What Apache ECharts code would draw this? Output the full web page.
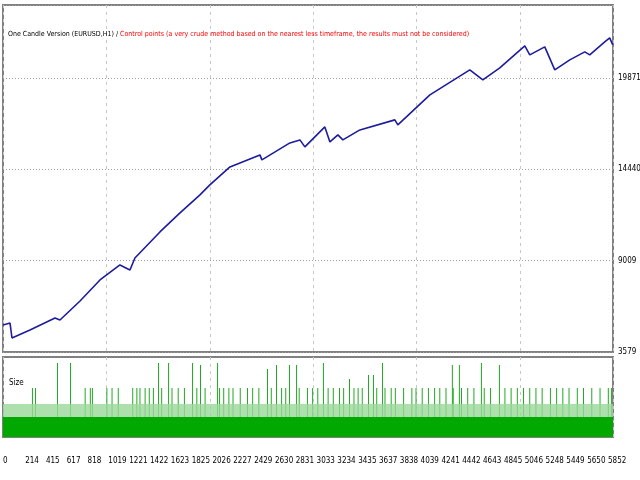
<!DOCTYPE html>
<html><head><meta charset="utf-8">
<script src="https://cdn.jsdelivr.net/npm/echarts@6/dist/echarts.min.js"></script>
<style>html,body{margin:0;padding:0;background:#fff}#c{width:640px;height:480px}</style>
</head><body><div id="c"></div>
<script>
const xTickLabels = [0,214,415,617,818,1019,1221,1422,1623,1825,2026,2227,2429,2630,2831,3033,3234,3435,3637,3838,4039,4241,4442,4643,4845,5046,5248,5449,5650,5852];
const yTickLabels = [3579,9009,14440,19871];
const equityTrades = [0,68,87,261,503,551,745,938,1131,1228,1276,1518,1712,1905,2001,2195,2485,2504,2775,2872,2920,3113,3162,3239,3287,3452,3790,3819,4129,4515,4641,4805,5047,5095,5240,5337,5482,5627,5675,5820,5868,5897];
const equityValues = [5186,5300,4412,4888,5602,5480,6614,7863,8755,8458,9172,10719,11850,12921,13515,14586,15301,15003,16015,16193,15776,16967,16074,16491,16193,16788,17383,17086,18871,20358,19763,20477,21786,21250,21727,20358,20950,21430,21250,22020,22260,21850];
const sizeBaseLevel = 1;
const sizeLightLevel = 1.65;
const sizeTallTrades = [522,648,1499,1596,1828,1905,2070,2553,2640,2766,2834,3094,3346,3530,3578,3665,4341,4409,4622,4796];
const sizeTallValues = [3.7,3.7,3.7,3.7,3.7,3.6,3.7,3.4,3.6,3.6,3.6,3.7,2.9,3.1,3.1,3.7,3.6,3.6,3.7,3.6];
const sizeMidTrades = [290,320,800,850,870,1010,1060,1120,1260,1300,1330,1380,1420,1460,1540,1640,1700,1760,1880,1960,2100,2140,2190,2230,2300,2370,2420,2480,2600,2700,2740,2870,2950,3000,3050,3150,3200,3260,3300,3400,3440,3480,3620,3700,3760,3800,3880,3960,4000,4060,4120,4180,4230,4290,4360,4440,4500,4560,4660,4720,4860,4920,4980,5040,5100,5160,5220,5300,5360,5420,5480,5560,5620,5700,5780,5860,5890];
const sizeMidValues = sizeMidTrades.map(()=>2.45);
const chart = echarts.init(document.getElementById('c'));
const font = 'DejaVu Sans Condensed';
const xCommon = {type:'value',min:0,max:5900,
  axisLine:{show:false},axisTick:{show:false},
  splitLine:{show:true,lineStyle:{color:'#c8c8c8',type:[3,4]}},
  axisLabel:{show:false}};
chart.setOption({
  animation:false,
  title:[{text:'{b|One Candle Version (EURUSD,H1) / }{r|Control points (a very crude method based on the nearest less timeframe, the results must not be considered)}',
    left:3,top:26,textStyle:{fontWeight:'normal',rich:{b:{color:'#000',fontSize:7,fontFamily:font},r:{color:'#ff0000',fontSize:7,fontFamily:font}}}},
   {text:'Size',left:4,top:374,textStyle:{fontSize:8,fontWeight:'normal',color:'#000',fontFamily:font}}],
  grid:[{left:3,right:27,top:5,bottom:128,show:true,borderColor:'#808080',borderWidth:2,outerBoundsMode:'none',containLabel:false},
        {left:3,right:27,top:357,bottom:43,show:true,borderColor:'#808080',borderWidth:2,outerBoundsMode:'none',containLabel:false}],
  xAxis:[Object.assign({gridIndex:0},xCommon),
   Object.assign({},xCommon,{gridIndex:1,
     axisLabel:{show:true,customValues:xTickLabels,formatter:v=>String(v),color:'#000',fontSize:8,fontFamily:font,margin:20,align:'left'},
     splitLine:{show:true,lineStyle:{color:'#c8c8c8',type:[3,4]}}})],
  yAxis:[{gridIndex:0,type:'value',position:'right',min:3578.5,max:24216,interval:5430.8,
     axisLine:{show:false},axisTick:{show:false},
     splitLine:{show:true,lineStyle:{color:'#a0a0a0',type:[1,2]}},
     axisLabel:{color:'#000',fontSize:8,fontFamily:font,margin:5,formatter:v=>String(Math.round(v)),showMaxLabel:false}},
   {gridIndex:1,type:'value',min:0,max:4,show:false}],
  series:[
   {type:'line',xAxisIndex:0,yAxisIndex:0,symbol:'none',data:equityTrades.map((t,i)=>[t,equityValues[i]]),
    lineStyle:{color:'#1c1c9c',width:1.6}},
   {type:'line',xAxisIndex:1,yAxisIndex:1,symbol:'none',data:[[0,sizeLightLevel],[5900,sizeLightLevel]],
    lineStyle:{width:0},areaStyle:{color:'#9ad89a',opacity:0.8}},
   {type:'bar',xAxisIndex:1,yAxisIndex:1,barWidth:1,data:sizeMidTrades.map((t,i)=>[t,sizeMidValues[i]]),itemStyle:{color:'#22a822'}},
   {type:'bar',xAxisIndex:1,yAxisIndex:1,barWidth:1,data:sizeTallTrades.map((t,i)=>[t,sizeTallValues[i]]),itemStyle:{color:'#22a822'}},
   {type:'line',xAxisIndex:1,yAxisIndex:1,symbol:'none',data:[[0,sizeBaseLevel],[5900,sizeBaseLevel]],
    lineStyle:{width:0},areaStyle:{color:'#00a800',opacity:1}}
  ]
});
</script></body></html>
